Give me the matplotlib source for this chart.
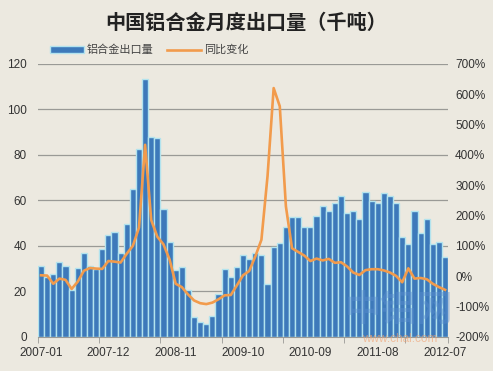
import numpy as np
import pandas as pd
import matplotlib
matplotlib.use("Agg")
import matplotlib.pyplot as plt

plt.rcParams['font.family'] = ['Liberation Sans', 'Noto Sans CJK SC', 'DejaVu Sans']

# monthly categories 2007-01 .. 2012-07
months = [p.strftime('%Y-%m') for p in pd.period_range('2007-01', '2012-07', freq='M')]

# aluminium alloy exports (thousand tonnes)
exports = [31.2, 26.5, 27.7, 33.0, 31.3, 20.5, 30.3, 36.9, 31.0, 30.0,
           38.7, 44.8, 46.3, 37.0, 49.7, 65.0, 82.6, 113.3, 88.0, 87.6,
           56.3, 41.5, 29.2, 30.9, 20.6, 8.9, 6.4, 5.5, 9.2, 18.8,
           29.9, 26.5, 30.9, 36.0, 34.3, 36.8, 36.0, 23.2, 39.3, 41.2,
           48.1, 52.6, 52.6, 48.5, 48.5, 53.3, 57.7, 55.1, 58.8, 62.0,
           54.4, 55.5, 51.7, 63.7, 59.9, 59.0, 63.4, 61.7, 58.8, 43.8,
           40.7, 55.5, 45.8, 51.7, 40.7, 41.8, 35.0]

# year-on-year change (%)
yoy = [3, 2, -25, -8, -12, -42, -18, 18, 27, 25,
       24, 50, 48, 45, 74, 100, 160, 433, 185, 130,
       105, 55, -25, -36, -60, -80, -89, -92, -87, -76,
       -63, -62, -30, 3, 17, 65, 120, 330, 620, 560,
       230, 92, 80, 68, 50, 58, 52, 57, 44, 46,
       32, 12, 4, 20, 23, 23, 19, 12, 1, -20,
       26, -8, -6, -10, -25, -36, -45]

title = '中国铝合金月度出口量（千吨）'
bar_label = '铝合金出口量'
line_label = '同比变化'

bg = '#ECE9E0'
bar_color = '#3D79BA'
edge_color = '#B2E3EE'
line_color = '#F29B4C'
grid_color = '#9A9A96'
text_color = '#333333'

fig = plt.figure(figsize=(4.93, 3.71), dpi=100, facecolor=bg)
ax = fig.add_axes([0.077, 0.092, 0.832, 0.736], facecolor=bg)
ax2 = ax.twinx()

x = np.arange(len(months))
ax.bar(x, exports, width=1.0, color=bar_color, edgecolor=edge_color,
       linewidth=1.0, zorder=2, label=bar_label)
ax2.plot(x, yoy, color=line_color, linewidth=1.9, zorder=3,
         solid_joinstyle='round', label=line_label)

ax.set_xlim(-0.5, len(months) - 0.5)
ax.set_ylim(0, 120)
ax.set_yticks(range(0, 121, 20))
ax.yaxis.grid(True, color=grid_color, linewidth=0.9, zorder=0)
ax.set_axisbelow(True)
ax2.set_ylim(-200, 700)
ax2.set_yticks(range(-200, 701, 100))
ax2.set_yticklabels([f'{v}%' for v in range(-200, 701, 100)])

label_idx = list(range(0, len(months), 11))
ax.set_xticks(label_idx)
ax.set_xticklabels([months[i] for i in label_idx])
ax.set_xticks(list(np.arange(-0.5, len(months), 10)) + [len(months) - 0.5], minor=True)
ax.tick_params(axis='x', which='major', length=0, pad=7, labelsize=8.5, colors=text_color)
ax.tick_params(axis='x', which='minor', length=4, color=grid_color, direction='out')
ax.tick_params(axis='y', length=0, pad=8, labelsize=8.5, colors=text_color)
ax2.tick_params(axis='y', length=0, pad=5, labelsize=8.5, colors=text_color)

for a in (ax, ax2):
    for side in ('top', 'left', 'right', 'bottom'):
        a.spines[side].set_visible(False)
ax.spines['bottom'].set_visible(True)
ax.spines['bottom'].set_color(grid_color)

fig.text(0.5, 0.94, title, ha='center', va='center', fontsize=14.5,
         fontweight='bold', color='#222222', family=['Noto Sans CJK SC'])

h1, l1 = ax.get_legend_handles_labels()
h2, l2 = ax2.get_legend_handles_labels()
fig.legend(h1 + h2, l1 + l2, loc='center left', bbox_to_anchor=(0.082, 0.865),
           ncol=2, frameon=False, fontsize=8, handlelength=3.0, handleheight=0.6,
           columnspacing=1.2, handletextpad=0.3, labelcolor='#444444')

# watermark
fig.text(0.81, 0.163, '中铝网', ha='center', va='center', fontsize=26,
         color='#5A8FD0', alpha=0.45, fontweight='bold', family=['Noto Sans CJK SC'])
fig.text(0.81, 0.086, 'www.chal.com', ha='center', va='center', fontsize=8.5,
         color='#F0A070', alpha=0.6)

fig.savefig('out.png', dpi=100, facecolor=bg)
